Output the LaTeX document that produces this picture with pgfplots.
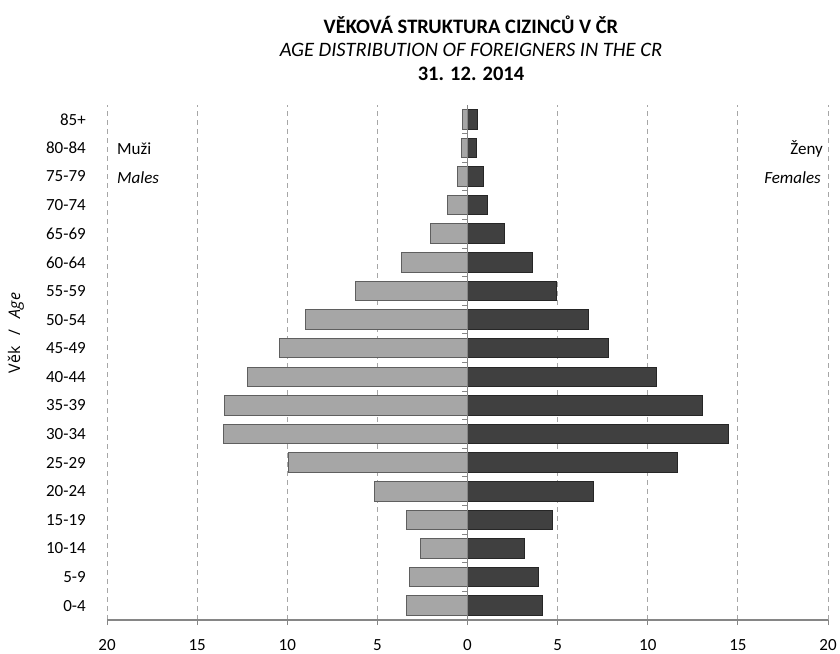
\documentclass[border=0pt]{standalone}
\usepackage{pgfplots}
\pgfplotsset{compat=1.18}
\usepackage{pgfplotstable}
\usepackage{fontspec}
\setmainfont{Carlito}
\newfontfamily\labelfont{Open Sans}
\definecolor{malefill}{HTML}{A6A6A6}
\definecolor{maledraw}{HTML}{5F5F5F}
\definecolor{femalefill}{HTML}{404040}
\definecolor{femaledraw}{HTML}{262626}
\definecolor{gridc}{HTML}{A6A6A6}
\definecolor{axisc}{HTML}{868686}

\pgfplotstableread{
y  m      f
0  3.37   4.16
1  3.22   3.92
2  2.59   3.14
3  3.37   4.70
4  5.16   6.97
5  9.93   11.65
6  13.53  14.46
7  13.46  13.05
8  12.19  10.46
9  10.45  7.81
10 8.97   6.71
11 6.24   4.91
12 3.67   3.60
13 2.03   2.05
14 1.11   1.11
15 0.55   0.87
16 0.33   0.48
17 0.26   0.55
}\pyramid

\begin{document}
\fontsize{17pt}{20pt}\selectfont
\begin{tikzpicture}[x=1pt,y=1pt]
\useasboundingbox (0,0) rectangle (840,653);
\begin{axis}[
  at={(107pt,33pt)}, anchor=south west,
  scale only axis, width=721pt, height=515pt,
  xbar, bar shift=0pt, bar width=19.5pt,
  xmin=-20, xmax=20, ymin=-0.5, ymax=17.5,
  xtick={-20,-15,...,20},
  xticklabels={20,15,10,5,0,5,10,15,20},
  ytick={0,...,17},
  yticklabels={0-4,5-9,10-14,15-19,20-24,25-29,30-34,35-39,40-44,45-49,50-54,55-59,60-64,65-69,70-74,75-79,80-84,85+},
  axis x line*=bottom, axis y line*=left,
  x axis line style={draw=axisc, line width=1.5pt, -},
  y axis line style={draw=none},
  major y tick style={draw=none},
  major x tick style={draw=axisc, line width=1pt},
  tick align=outside, major tick length=5pt,
  xmajorgrids,
  major x grid style={draw=gridc, line width=1pt, dash pattern=on 5pt off 4pt},
  ticklabel style={font=\fontsize{17pt}{20pt}\selectfont},
  yticklabel style={inner sep=0pt, anchor=east, xshift=-16pt},
  xticklabel style={inner sep=0pt, anchor=north, yshift=-14pt},
  clip=false,
]
\addplot[fill=malefill, draw=maledraw, line width=1pt] table[x expr=-\thisrow{m}, y=y]{\pyramid};
\addplot[fill=femalefill, draw=femaledraw, line width=1pt] table[x=f, y=y]{\pyramid};
\draw[color=axisc, line width=1.5pt] (axis cs:0,-0.5) -- (axis cs:0,17.5);
\pgfplotsinvokeforeach{0,...,17}{
  \draw[color=axisc, line width=1pt] (axis cs:0,#1-0.5) -- ++(-6pt,0pt);
}
\end{axis}
\node[anchor=west, inner sep=0pt] at (117,504) {Muži};
\node[anchor=west, inner sep=0pt] at (117,475) {\itshape Males};
\node[anchor=east, inner sep=0pt] at (823,504) {Ženy};
\node[anchor=east, inner sep=0pt] at (821,475) {\itshape Females};
\node[rotate=90, inner sep=0pt] at (16,320) {\labelfont\fontsize{16pt}{19pt}\selectfont Věk\hspace{0.7em}/\hspace{0.7em}\itshape Age};
\node[inner sep=0pt] at (471,628) {\fontsize{20.5pt}{24pt}\selectfont\bfseries VĚKOVÁ STRUKTURA CIZINCŮ V ČR};
\node[inner sep=0pt] at (471,603) {\fontsize{20.5pt}{24pt}\selectfont\itshape AGE DISTRIBUTION OF FOREIGNERS IN THE CR};
\node[inner sep=0pt] at (471,579) {\fontsize{20.5pt}{24pt}\selectfont\bfseries 31. 12. 2014};
\end{tikzpicture}
\end{document}
